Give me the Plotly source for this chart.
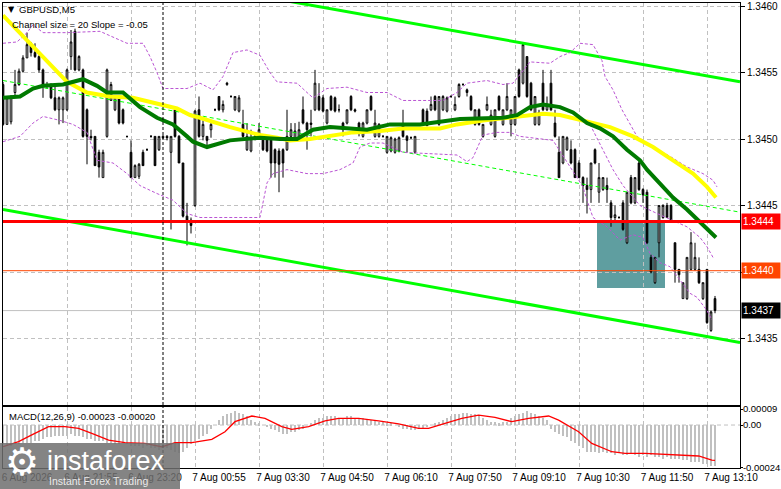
import plotly.graph_objects as go

W, H = 781, 489
FONT = "Liberation Sans, Arial, sans-serif"

# =========================
# DATA (GBPUSD M5)
# =========================
BAR_OPEN = [
    1.34541, 1.34511, 1.34513, 1.34535, 1.34541, 1.34551, 1.34561, 1.34571, 1.34565, 1.34562,
    1.34552, 1.34541, 1.34541, 1.34531, 1.34522, 1.34522, 1.34522, 1.34562, 1.34581, 1.34552,
    1.34552, 1.34522, 1.34502, 1.34502, 1.34490, 1.34471, 1.34502, 1.34529, 1.34522, 1.34531,
    1.34522, 1.34502, 1.34490, 1.34471, 1.34472, 1.34490, 1.34492, 1.34502, 1.34502, 1.34492,
    1.34502, 1.34502, 1.34490, 1.34522, 1.34502, 1.34482, 1.34442, 1.34439, 1.34450, 1.34522,
    1.34502, 1.34502, 1.34507, 1.34522, 1.34532, 1.34522, 1.34541, 1.34532, 1.34522, 1.34521,
    1.34511, 1.34492, 1.34491, 1.34502, 1.34502, 1.34502, 1.34501, 1.34502, 1.34492, 1.34491,
    1.34492, 1.34492, 1.34502, 1.34501, 1.34502, 1.34522, 1.34512, 1.34512, 1.34522, 1.34532,
    1.34531, 1.34512, 1.34532, 1.34531, 1.34522, 1.34512, 1.34512, 1.34532, 1.34522, 1.34512,
    1.34502, 1.34512, 1.34532, 1.34502, 1.34502, 1.34502, 1.34490, 1.34491, 1.34490, 1.34491,
    1.34511, 1.34502, 1.34501, 1.34490, 1.34511, 1.34522, 1.34521, 1.34522, 1.34532, 1.34511,
    1.34522, 1.34521, 1.34532, 1.34522, 1.34532, 1.34541, 1.34537, 1.34532, 1.34511, 1.34522,
    1.34502, 1.34522, 1.34511, 1.34502, 1.34532, 1.34511, 1.34522, 1.34511, 1.34511, 1.34552,
    1.34542, 1.34562, 1.34542, 1.34511, 1.34511, 1.34542, 1.34522, 1.34542, 1.34512, 1.34490,
    1.34482, 1.34492, 1.34492, 1.34492, 1.34482, 1.34471, 1.34465, 1.34462, 1.34492, 1.34460,
    1.34462, 1.34465, 1.34452, 1.34441, 1.34441, 1.34452, 1.34422, 1.34471, 1.34452, 1.34482,
    1.34462, 1.34460, 1.34411, 1.34392, 1.34422, 1.34441, 1.34450, 1.34450, 1.34422, 1.34402,
    1.34380, 1.34380, 1.34402, 1.34402, 1.34402, 1.34380, 1.34402, 1.34356, 1.34380,
]
BAR_HIGH = [
    1.34543, 1.34532, 1.34533, 1.34552, 1.34553, 1.34563, 1.34580, 1.34573, 1.34572, 1.34563,
    1.34553, 1.34543, 1.34542, 1.34541, 1.34532, 1.34532, 1.34553, 1.34582, 1.34583, 1.34563,
    1.34553, 1.34523, 1.34507, 1.34502, 1.34492, 1.34492, 1.34553, 1.34543, 1.34532, 1.34532,
    1.34523, 1.34502, 1.34499, 1.34481, 1.34482, 1.34492, 1.34493, 1.34503, 1.34502, 1.34502,
    1.34503, 1.34503, 1.34502, 1.34523, 1.34503, 1.34482, 1.34452, 1.34441, 1.34522, 1.34532,
    1.34514, 1.34502, 1.34512, 1.34523, 1.34532, 1.34529, 1.34543, 1.34533, 1.34532, 1.34533,
    1.34522, 1.34512, 1.34507, 1.34503, 1.34512, 1.34503, 1.34503, 1.34503, 1.34493, 1.34493,
    1.34493, 1.34522, 1.34512, 1.34512, 1.34513, 1.34532, 1.34513, 1.34522, 1.34552, 1.34542,
    1.34533, 1.34522, 1.34533, 1.34532, 1.34526, 1.34513, 1.34522, 1.34533, 1.34523, 1.34513,
    1.34513, 1.34522, 1.34533, 1.34522, 1.34512, 1.34503, 1.34502, 1.34502, 1.34501, 1.34502,
    1.34522, 1.34503, 1.34502, 1.34502, 1.34512, 1.34523, 1.34523, 1.34532, 1.34533, 1.34532,
    1.34533, 1.34532, 1.34533, 1.34532, 1.34542, 1.34542, 1.34538, 1.34533, 1.34522, 1.34523,
    1.34511, 1.34532, 1.34522, 1.34522, 1.34533, 1.34522, 1.34542, 1.34522, 1.34532, 1.34553,
    1.34572, 1.34562, 1.34543, 1.34532, 1.34522, 1.34552, 1.34532, 1.34552, 1.34522, 1.34502,
    1.34502, 1.34502, 1.34499, 1.34493, 1.34484, 1.34472, 1.34471, 1.34482, 1.34493, 1.34482,
    1.34471, 1.34471, 1.34454, 1.34450, 1.34442, 1.34454, 1.34460, 1.34473, 1.34471, 1.34484,
    1.34463, 1.34462, 1.34413, 1.34411, 1.34450, 1.34451, 1.34452, 1.34451, 1.34422, 1.34402,
    1.34392, 1.34411, 1.34430, 1.34422, 1.34411, 1.34392, 1.34402, 1.34371, 1.34382,
]
BAR_LOW = [
    1.34510, 1.34511, 1.34511, 1.34532, 1.34540, 1.34550, 1.34561, 1.34562, 1.34561, 1.34550,
    1.34531, 1.34538, 1.34530, 1.34521, 1.34511, 1.34512, 1.34521, 1.34552, 1.34551, 1.34551,
    1.34501, 1.34481, 1.34499, 1.34480, 1.34471, 1.34471, 1.34501, 1.34529, 1.34521, 1.34511,
    1.34511, 1.34501, 1.34471, 1.34471, 1.34470, 1.34480, 1.34491, 1.34501, 1.34480, 1.34491,
    1.34500, 1.34499, 1.34432, 1.34501, 1.34482, 1.34441, 1.34420, 1.34429, 1.34449, 1.34501,
    1.34499, 1.34493, 1.34501, 1.34521, 1.34521, 1.34520, 1.34540, 1.34531, 1.34521, 1.34520,
    1.34501, 1.34491, 1.34490, 1.34499, 1.34501, 1.34491, 1.34490, 1.34471, 1.34471, 1.34460,
    1.34471, 1.34491, 1.34501, 1.34500, 1.34501, 1.34511, 1.34492, 1.34502, 1.34521, 1.34521,
    1.34520, 1.34511, 1.34521, 1.34520, 1.34520, 1.34502, 1.34511, 1.34521, 1.34520, 1.34502,
    1.34501, 1.34511, 1.34521, 1.34501, 1.34501, 1.34501, 1.34489, 1.34490, 1.34489, 1.34490,
    1.34501, 1.34490, 1.34500, 1.34489, 1.34510, 1.34510, 1.34510, 1.34521, 1.34521, 1.34510,
    1.34521, 1.34520, 1.34531, 1.34521, 1.34531, 1.34540, 1.34532, 1.34521, 1.34510, 1.34510,
    1.34501, 1.34521, 1.34510, 1.34501, 1.34521, 1.34510, 1.34521, 1.34502, 1.34510, 1.34531,
    1.34541, 1.34531, 1.34521, 1.34510, 1.34510, 1.34521, 1.34521, 1.34521, 1.34501, 1.34471,
    1.34481, 1.34491, 1.34481, 1.34471, 1.34471, 1.34452, 1.34444, 1.34452, 1.34481, 1.34452,
    1.34461, 1.34452, 1.34434, 1.34439, 1.34440, 1.34431, 1.34421, 1.34451, 1.34451, 1.34461,
    1.34452, 1.34421, 1.34399, 1.34391, 1.34411, 1.34440, 1.34441, 1.34438, 1.34392, 1.34392,
    1.34380, 1.34379, 1.34401, 1.34401, 1.34391, 1.34379, 1.34361, 1.34355, 1.34369,
]
BAR_CLOSE = [
    1.34511, 1.34531, 1.34532, 1.34541, 1.34551, 1.34561, 1.34571, 1.34565, 1.34562, 1.34552,
    1.34541, 1.34540, 1.34531, 1.34522, 1.34531, 1.34531, 1.34552, 1.34573, 1.34552, 1.34562,
    1.34502, 1.34502, 1.34501, 1.34480, 1.34479, 1.34490, 1.34552, 1.34541, 1.34532, 1.34512,
    1.34512, 1.34502, 1.34471, 1.34480, 1.34481, 1.34480, 1.34492, 1.34502, 1.34480, 1.34502,
    1.34501, 1.34501, 1.34502, 1.34502, 1.34482, 1.34442, 1.34439, 1.34435, 1.34521, 1.34502,
    1.34511, 1.34499, 1.34511, 1.34522, 1.34522, 1.34526, 1.34542, 1.34532, 1.34532, 1.34531,
    1.34502, 1.34502, 1.34501, 1.34501, 1.34507, 1.34492, 1.34491, 1.34482, 1.34482, 1.34481,
    1.34482, 1.34502, 1.34507, 1.34506, 1.34507, 1.34512, 1.34507, 1.34511, 1.34542, 1.34522,
    1.34521, 1.34522, 1.34522, 1.34521, 1.34522, 1.34507, 1.34522, 1.34522, 1.34521, 1.34507,
    1.34512, 1.34522, 1.34522, 1.34512, 1.34511, 1.34502, 1.34502, 1.34501, 1.34500, 1.34501,
    1.34502, 1.34499, 1.34501, 1.34502, 1.34511, 1.34511, 1.34510, 1.34526, 1.34522, 1.34532,
    1.34532, 1.34531, 1.34532, 1.34526, 1.34541, 1.34541, 1.34535, 1.34522, 1.34522, 1.34511,
    1.34511, 1.34526, 1.34518, 1.34522, 1.34522, 1.34522, 1.34532, 1.34522, 1.34532, 1.34532,
    1.34571, 1.34532, 1.34522, 1.34532, 1.34520, 1.34522, 1.34526, 1.34522, 1.34502, 1.34471,
    1.34502, 1.34501, 1.34482, 1.34471, 1.34471, 1.34465, 1.34462, 1.34482, 1.34482, 1.34471,
    1.34471, 1.34462, 1.34441, 1.34443, 1.34441, 1.34432, 1.34460, 1.34452, 1.34471, 1.34462,
    1.34458, 1.34422, 1.34400, 1.34411, 1.34450, 1.34450, 1.34441, 1.34438, 1.34402, 1.34398,
    1.34392, 1.34411, 1.34422, 1.34411, 1.34392, 1.34392, 1.34362, 1.34370, 1.34371,
]

TIME_TICKS = [0, 16, 32, 48, 64, 80, 96, 112, 128, 144, 160, 176]
TIME_LABELS = [
    "6 Aug 2026", "6 Aug 21:55", "6 Aug 23:20", "7 Aug 00:55", "7 Aug 03:30", "7 Aug 04:50",
    "7 Aug 06:10", "7 Aug 07:50", "7 Aug 09:10", "7 Aug 10:30", "7 Aug 11:50", "7 Aug 13:10",
]
PRICE_TICKS = [1.3435, 1.3440, 1.3445, 1.3450, 1.3455, 1.3460]
DAY_BREAK = 40

# slow MA (yellow)
MA_SLOW_X = [0, 3.5, 6.75, 11.75, 16, 21, 26.75, 32.5, 38.5, 43.5, 46.75, 49.25, 56.75, 64.25,
             68.5, 71.75, 76.75, 81.75, 87.5, 94.25, 100, 109.25, 113.5, 120, 128.5, 135, 139.25,
             145, 151.75, 157.5, 162.5, 167.5, 172.5, 176, 178.25]
MA_SLOW_Y = [1.34593, 1.34582, 1.34572, 1.34556, 1.34543, 1.34535, 1.34532, 1.34531, 1.34527,
             1.34523, 1.34518, 1.34516, 1.34509, 1.34503, 1.34501, 1.34499, 1.34500, 1.34502,
             1.34505, 1.34506, 1.34508, 1.34508, 1.34511, 1.34514, 1.34517, 1.34519, 1.34518,
             1.34514, 1.34509, 1.34502, 1.34494, 1.34484, 1.34474, 1.34464, 1.34456]

# fast MA (dark green)
MA_FAST_X = [0, 4.25, 7.5, 10, 15, 20, 23.5, 26, 30, 34.25, 38.5, 42.5, 46, 47.5, 51, 54.25,
             56.75, 64.25, 69.25, 73.5, 77.5, 81.75, 86, 91, 96.75, 104.25, 114.25, 125, 128.5,
             131.75, 135, 139.25, 142.5, 146, 149.25, 152.5, 156, 159.25, 161, 164.25, 167.5,
             171, 174.25, 176.25, 178.25]
MA_FAST_Y = [1.34531, 1.34532, 1.34538, 1.34540, 1.34541, 1.34545, 1.34540, 1.34535, 1.34535,
             1.34524, 1.34516, 1.34511, 1.34502, 1.34498, 1.34494, 1.34497, 1.34499, 1.34501,
             1.34500, 1.34500, 1.34507, 1.34509, 1.34508, 1.34507, 1.34511, 1.34511, 1.34515,
             1.34516, 1.34518, 1.34524, 1.34526, 1.34524, 1.34520, 1.34512, 1.34508, 1.34502,
             1.34492, 1.34484, 1.34477, 1.34467, 1.34456, 1.34447, 1.34438, 1.34432, 1.34426]

# envelope bands (dotted purple)
BAND_UP_X = [0, 3.5, 6, 7.5, 10, 16, 24.25, 31, 35, 36.75, 38.5, 40, 46, 49.25, 52.5, 55, 57.5,
             61, 64.25, 66.75, 68.5, 73.5, 76, 77.5, 81, 86, 91, 96, 100, 110, 113.5, 116, 121,
             125, 127.5, 131.75, 136.75, 139.25, 141.75, 144.25, 147.5, 149.75, 150.5, 152.5,
             154.75, 158.5, 162.5, 166.75, 171, 175, 177.5, 178.5]
BAND_UP_Y = [1.34572, 1.34573, 1.34580, 1.34586, 1.34580, 1.34580, 1.34581, 1.34572, 1.34572,
             1.34562, 1.34550, 1.34538, 1.34538, 1.34542, 1.34537, 1.34547, 1.34565, 1.34567,
             1.34563, 1.34550, 1.34543, 1.34542, 1.34535, 1.34531, 1.34538, 1.34539, 1.34535,
             1.34535, 1.34529, 1.34529, 1.34535, 1.34542, 1.34544, 1.34541, 1.34542, 1.34558,
             1.34557, 1.34562, 1.34565, 1.34572, 1.34571, 1.34559, 1.34547, 1.34537, 1.34522,
             1.34502, 1.34494, 1.34487, 1.34479, 1.34474, 1.34469, 1.34464]
BAND_DN_X = [0, 4.25, 7.5, 10, 14.25, 17.5, 21, 23.5, 27.5, 31, 34.25, 38.5, 42.5, 46, 49.25,
             56, 64.25, 66, 67.5, 71, 76, 80, 84.25, 87.5, 89.25, 91.75, 95, 100, 113.5, 116,
             117.5, 120, 123.5, 126.75, 129.25, 137.5, 140, 141.75, 145, 146, 147.5, 151,
             154.25, 157.5, 160, 161.75, 164.25, 166.75, 169.25, 171.75, 173.5, 176, 177.25]
BAND_DN_Y = [1.34498, 1.34502, 1.34512, 1.34517, 1.34514, 1.34511, 1.34505, 1.34484, 1.34482,
             1.34474, 1.34465, 1.34459, 1.34454, 1.34444, 1.34441, 1.34441, 1.34441, 1.34467,
             1.34474, 1.34477, 1.34474, 1.34474, 1.34477, 1.34482, 1.34494, 1.34497, 1.34497,
             1.34490, 1.34488, 1.34483, 1.34486, 1.34503, 1.34505, 1.34505, 1.34502, 1.34499,
             1.34487, 1.34479, 1.34464, 1.34454, 1.34441, 1.34434, 1.34424, 1.34428, 1.34426,
             1.34414, 1.34407, 1.34404, 1.34394, 1.34384, 1.34381, 1.34371, 1.34364]
BAND_MID_X = [146.75, 150, 152.5, 155, 159.25, 164.25, 171, 174.25, 176, 177.5]
BAND_MID_Y = [1.34511, 1.34492, 1.34477, 1.34465, 1.34450, 1.34443, 1.34434, 1.34426, 1.34419,
              1.34411]

# regression channel (bright green), ends of the lines
CHANNEL_X = [0, 184.25]
CHANNEL_TOP = [1.34642, 1.34543]
CHANNEL_MID = [1.34544, 1.34445]
CHANNEL_BOT = [1.34447, 1.34347]

LEVEL_RED = 1.34438
LEVEL_ORANGE = 1.34401
BID = 1.34371
ZONE_X = [148.5, 165.5]
ZONE_Y = [1.34388, 1.34439]

MACD_HIST = [
    -0.00011, -0.00012, -0.00012, -0.00011, -0.00011, -0.00010, -0.00010, -0.00010, -0.00009, -0.00009,
    -0.00008, -0.00007, -0.00007, -0.00006, -0.00006, -0.00006, -0.00006, -0.00005, -0.00006, -0.00006,
    -0.00007, -0.00008, -0.00008, -0.00009, -0.00009, -0.00009, -0.00010, -0.00010, -0.00011, -0.00011,
    -0.00010, -0.00011, -0.00012, -0.00012, -0.00012, -0.00013, -0.00012, -0.00013, -0.00013, -0.00014,
    -0.00013, -0.00013, -0.00014, -0.00015, -0.00016, -0.00015, -0.00013, -0.00011, -0.00009, -0.00008,
    -0.00006, -0.00005, -0.00002, 0.00000, 0.00003, 0.00005, 0.00006, 0.00007, 0.00008, 0.00007,
    0.00006, 0.00005, 0.00003, 0.00002, 0.00001, 0.00000, -0.00001, -0.00002, -0.00003, -0.00004,
    -0.00005, -0.00005, -0.00004, -0.00004, -0.00003, -0.00002, 0.00000, 0.00001, 0.00003, 0.00004,
    0.00004, 0.00005, 0.00005, 0.00005, 0.00004, 0.00004, 0.00005, 0.00005, 0.00004, 0.00004,
    0.00004, 0.00003, 0.00003, 0.00003, 0.00002, 0.00002, 0.00001, 0.00001, 0.00000, -0.00001,
    -0.00002, -0.00002, -0.00003, -0.00003, -0.00002, -0.00002, -0.00001, 0.00000, 0.00001, 0.00002,
    0.00003, 0.00004, 0.00005, 0.00006, 0.00006, 0.00007, 0.00007, 0.00006, 0.00006, 0.00005,
    0.00004, 0.00003, 0.00002, 0.00002, 0.00001, 0.00002, 0.00002, 0.00004, 0.00005, 0.00006,
    0.00007, 0.00008, 0.00007, 0.00006, 0.00005, 0.00004, 0.00003, -0.00002, -0.00004, -0.00005,
    -0.00006, -0.00007, -0.00009, -0.00010, -0.00012, -0.00013, -0.00015, -0.00015, -0.00015, -0.00016,
    -0.00015, -0.00016, -0.00016, -0.00017, -0.00016, -0.00017, -0.00017, -0.00016, -0.00017, -0.00018,
    -0.00017, -0.00018, -0.00017, -0.00018, -0.00018, -0.00019, -0.00018, -0.00019, -0.00019, -0.00019,
    -0.00020, -0.00020, -0.00021, -0.00021, -0.00021, -0.00022, -0.00022, -0.00023, -0.00023,
]
MACD_SIGNAL_X = [0, 3.9, 7.2, 11.4, 15.5, 18.9, 22.2, 26.4, 30.5, 35.5, 39.7, 43, 47.2, 52.2,
                 55.5, 58, 62.2, 65.5, 69.7, 72.2, 76.4, 80.5, 83.9, 88.9, 93.9, 98.9, 103.9,
                 106.4, 110.5, 114.7, 118.9, 123, 127.2, 131.4, 136.4, 138.9, 143.9, 147.2,
                 152.2, 155.5, 160.5, 164.7, 168.9, 173.9, 177.2, 178]
MACD_SIGNAL_Y = [-0.000122, -0.000094, -0.000056, -0.000009, -0.000009, -0.000019, -0.000047,
                 -0.000085, -0.000100, -0.000104, -0.000123, -0.000100, -0.000100, -0.000081,
                 -0.000038, 0.000019, 0.000051, 0.000038, -0.000009, -0.000024, -0.000009,
                 0.000024, 0.000038, 0.000038, 0.000024, 0.000006, -0.000019, -0.000019,
                 0.000009, 0.000038, 0.000056, 0.000043, 0.000019, 0.000038, 0.000051, 0.000028,
                 -0.000038, -0.000104, -0.000151, -0.000160, -0.000160, -0.000164, -0.000170,
                 -0.000175, -0.000198, -0.000200]


def px(x):
    return x / W


def py(y):
    return 1 - y / H


def line_trace(xs, ys, color, width, dash="solid", axis="y"):
    return go.Scatter(
        x=xs, y=ys, mode="lines", yaxis=axis, xaxis="x" if axis == "y" else "x2",
        line=dict(color=color, width=width, dash=dash),
        hoverinfo="skip", showlegend=False,
    )


bars = list(range(len(BAR_CLOSE)))

fig = go.Figure()

# zone box behind candles
fig.add_shape(type="rect", xref="x", yref="y", x0=ZONE_X[0], x1=ZONE_X[1],
              y0=ZONE_Y[0], y1=ZONE_Y[1], fillcolor="#5F9EA0", line_width=0, layer="below")

fig.add_trace(line_trace(CHANNEL_X, CHANNEL_MID, "#00FF00", 1, "4px,3px"))
fig.add_trace(line_trace(CHANNEL_X, CHANNEL_TOP, "#00FF00", 3))
fig.add_trace(line_trace(CHANNEL_X, CHANNEL_BOT, "#00FF00", 3))

fig.add_trace(go.Candlestick(
    x=bars, open=BAR_OPEN, high=BAR_HIGH, low=BAR_LOW, close=BAR_CLOSE,
    increasing=dict(line=dict(color="black", width=1), fillcolor="white"),
    decreasing=dict(line=dict(color="black", width=1), fillcolor="black"),
    whiskerwidth=0, hoverinfo="skip", showlegend=False,
))

fig.add_trace(line_trace(BAND_UP_X, BAND_UP_Y, "#BA55D3", 1, "3px,2px"))
fig.add_trace(line_trace(BAND_DN_X, BAND_DN_Y, "#BA55D3", 1, "3px,2px"))
fig.add_trace(line_trace(BAND_MID_X, BAND_MID_Y, "#BA55D3", 1, "3px,2px"))
fig.add_trace(line_trace(MA_SLOW_X, MA_SLOW_Y, "#FFFF00", 4))
fig.add_trace(line_trace(MA_FAST_X, MA_FAST_Y, "#007A00", 4))

# MACD pane
fig.add_trace(go.Bar(
    x=bars, y=MACD_HIST, xaxis="x2", yaxis="y2", width=0.5,
    marker=dict(color="#C0C0C0", line_width=0), hoverinfo="skip", showlegend=False,
))
fig.add_trace(line_trace(MACD_SIGNAL_X, MACD_SIGNAL_Y, "#FF0000", 1.3, axis="y2"))

# horizontal levels
fig.add_shape(type="line", xref="x domain", yref="y", x0=0, x1=1, y0=BID, y1=BID,
              line=dict(color="#C0C0C0", width=1), layer="below")
fig.add_shape(type="line", xref="x domain", yref="y", x0=0, x1=1, y0=LEVEL_ORANGE, y1=LEVEL_ORANGE,
              line=dict(color="#FF4500", width=1))
fig.add_shape(type="line", xref="x domain", yref="y", x0=0, x1=1, y0=LEVEL_RED, y1=LEVEL_RED,
              line=dict(color="#FF0000", width=3))

# day separator + MACD zero line
fig.add_shape(type="line", xref="x", yref="y domain", x0=DAY_BREAK, x1=DAY_BREAK, y0=0, y1=1,
              line=dict(color="black", width=1, dash="3px,2px"))
fig.add_shape(type="line", xref="x2", yref="y2 domain", x0=DAY_BREAK, x1=DAY_BREAK, y0=0, y1=1,
              line=dict(color="black", width=1, dash="3px,2px"))
fig.add_shape(type="line", xref="x2 domain", yref="y2", x0=0, x1=1, y0=0, y1=0,
              line=dict(color="#C0C0C0", width=1, dash="4px,3px"), layer="below")

# logo plate
fig.add_shape(type="rect", xref="paper", yref="paper", x0=0, x1=px(180), y0=0, y1=py(443),
              fillcolor="rgba(110,110,110,0.85)", line_width=0, layer="above")

grid = dict(showgrid=True, gridcolor="#C0C0C0", gridwidth=1, griddash="4px,3px")
axis_font = dict(family=FONT, size=10, color="black")

fig.update_layout(
    width=W, height=H, template="none",
    margin=dict(l=0, r=0, t=0, b=0),
    paper_bgcolor="white", plot_bgcolor="white",
    font=dict(family=FONT, size=10, color="black"),
    showlegend=False, hovermode=False, boxgap=0.4, bargap=0,
    xaxis=dict(
        domain=[px(3), px(740)], range=[0, 184.25], anchor="y",
        tickvals=TIME_TICKS, showticklabels=False, ticks="",
        showline=True, linecolor="black", linewidth=1, mirror=True,
        zeroline=False, rangeslider=dict(visible=False), automargin=False, **grid,
    ),
    yaxis=dict(
        domain=[py(405), py(3)], range=[1.3430, 1.346023], side="right", anchor="x",
        tickvals=PRICE_TICKS, tickformat=".4f", ticks="outside", ticklen=4, tickcolor="black",
        tickfont=axis_font, showline=True, linecolor="black", linewidth=1, mirror=True,
        zeroline=False, automargin=False, **grid,
    ),
    xaxis2=dict(
        domain=[px(3), px(740)], range=[0, 184.25], anchor="y2", matches="x",
        tickvals=TIME_TICKS, ticktext=TIME_LABELS, ticks="", ticklabelshift=24,
        tickfont=axis_font, showline=True, linecolor="black", linewidth=1, mirror=True,
        zeroline=False, automargin=False, **grid,
    ),
    yaxis2=dict(
        domain=[py(468), py(407)], range=[-0.000243, 0.000102], side="right", anchor="x2",
        tickvals=[0.00009, 0, -0.00024], ticktext=["0.00009", "0.00", "-0.00024"],
        ticks="outside", ticklen=2, tickcolor="black", ticklabelstandoff=-2,
        tickfont=dict(family=FONT, size=9.5, color="black"),
        showline=True, linecolor="black", linewidth=1, mirror=True,
        showgrid=False, zeroline=False, automargin=False,
    ),
)

# texts
notes = [
    dict(x=px(6), y=py(10), text="▼", font=dict(size=8, family="DejaVu Sans")),
    dict(x=px(17), y=py(10), text="GBPUSD,M5"),
    dict(x=px(10), y=py(24), text="Channel size = 20 Slope = -0.05"),
    dict(x=px(7), y=py(416), text="MACD(12,26,9) -0.00023 -0.00020"),
    dict(x=px(3), y=py(462), text="⚙", font=dict(size=38, color="white", family="DejaVu Sans")),
    dict(x=px(45), y=py(461), text="instaforex",
         font=dict(size=27, color="white", family=FONT)),
    dict(x=px(47), y=py(481), text="Instant Forex Trading",
         font=dict(size=10.5, color="rgba(255,255,255,0.85)", family=FONT)),
]
for n in notes:
    n.setdefault("font", dict(size=9.5, family=FONT, color="black"))
    fig.add_annotation(xref="paper", yref="paper", xanchor="left", yanchor="middle",
                       showarrow=False, **n)

# price tags on the scale
for price, label, color in [(LEVEL_RED, "1.3444", "#FF0000"),
                            (LEVEL_ORANGE, "1.3440", "#FF4500"),
                            (BID, "1.3437", "#000000")]:
    fig.add_annotation(xref="paper", yref="y", x=px(741), y=price, xanchor="left",
                       yanchor="middle", text=label, showarrow=False, bgcolor=color,
                       font=dict(color="white", size=10, family=FONT),
                       width=36, height=13, align="left", borderpad=1)

# the page body carries a default 8px margin; drop it so the chart sits at 0,0
fig.write_html("out.html", config={"displayModeBar": False},
               post_script="document.body.style.margin='0';")
